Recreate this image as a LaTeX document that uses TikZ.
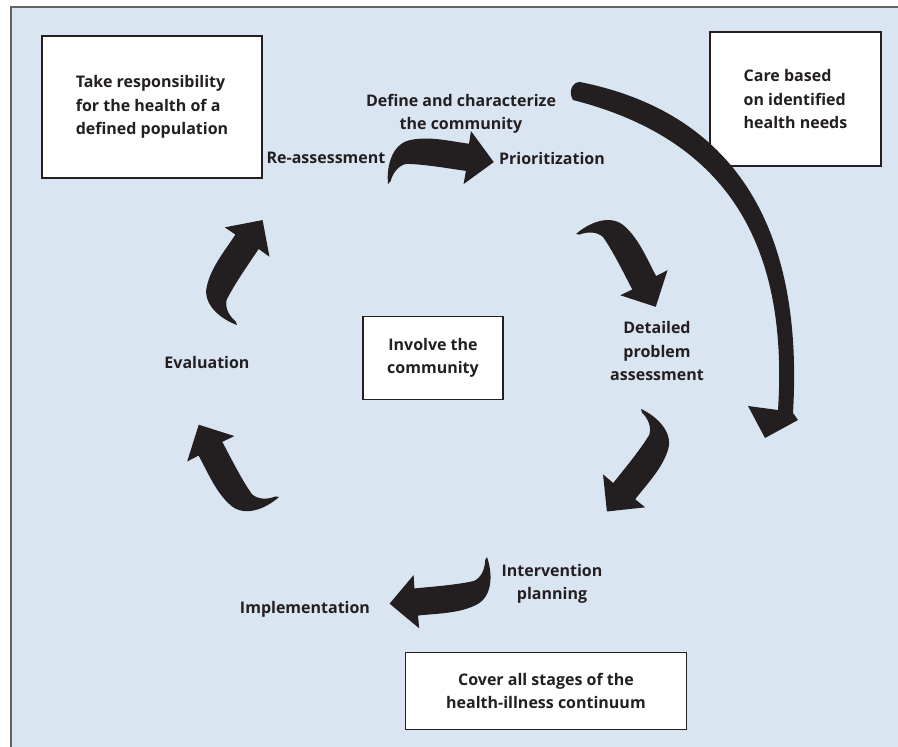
\documentclass[tikz,border=0pt]{standalone}
\usepackage{fontspec}
\setmainfont{Open Sans}
\usepackage{xcolor}

\definecolor{bgblue}{RGB}{218,229,242}
\definecolor{framegray}{RGB}{98,98,104}
\definecolor{inkblack}{RGB}{35,31,32}

\tikzset{
  labelfont/.style={font=\bfseries\fontsize{16}{23.5}\selectfont, text=inkblack},
  boxnode/.style={labelfont, draw=inkblack, line width=1.1pt, fill=white, inner sep=0pt},
  stagenode/.style={labelfont, align=center, inner sep=0pt},
  bentarrow/.pic={
    \fill[inkblack] (0,0) .. controls (2,-18) and (12,-38) .. (30,-38.5)
      .. controls (50,-39) and (70,-29) .. (87.5,-23)
      -- (92,-35) -- (108,0) -- (74,15.4) -- (79,3)
      .. controls (65,-2) and (40,-12) .. (22,-16)
      .. controls (14,-16) and (7,-10) .. (3,-2) -- cycle;
  }
}

\begin{document}
\begin{tikzpicture}[x=1pt, y=-1pt]
\useasboundingbox (0,0) rectangle (898,747);
% panel
\fill[bgblue] (11,7) rectangle (898,747);
\draw[framegray, line width=2.2pt] (11,747) -- (11,7) -- (898,7);

% boxes
\node[boxnode, minimum width=220, minimum height=142, align=left] (resp) at (152,107)
  {Take responsibility\\for the health of a\\defined population};
\node[boxnode, minimum width=171, minimum height=134, align=left] (needs) at (795.5,99)
  {Care based\\on identified\\health needs};
\node[boxnode, minimum width=140, minimum height=83, align=center] (involve) at (433,358)
  {Involve the\\community};
\node[boxnode, minimum width=281, minimum height=77, align=center] (cover) at (546,691)
  {Cover all stages of the\\health-illness continuum};

% stages
\node[stagenode] (define) at (461,114) {Define and characterize\\the community};
\node[stagenode] (prior) at (552,158) {Prioritization};
\node[stagenode] (reass) at (326,158) {Re-assessment};
\node[stagenode] (detail) at (657,351) {Detailed\\problem\\assessment};
\node[stagenode] (interv) at (552,584) {Intervention\\planning};
\node[stagenode] (impl) at (305,609) {Implementation};
\node[stagenode] (eval) at (207,362) {Evaluation};

% cycle arrows
\pic[rotate=11.7] at (388,184) {bentarrow};
\pic[rotate=-42.4] at (576,234) {bentarrow};
\pic[rotate=-108.4] at (641,409) {bentarrow};
\pic[rotate=-154.4] at (487,557) {bentarrow};
\pic[rotate=138] at (279,497) {bentarrow};
\pic[rotate=76.3] at (237,325) {bentarrow};

% big arrow
\fill[inkblack] (580,82) .. controls (720,110) and (805,210) .. (793,413)
  -- (798,420) -- (765,438) -- (748,406) -- (778,410)
  .. controls (790,225) and (710,135) .. (573,100)
  .. controls (568,92) and (572,82) .. (580,82) -- cycle;
\end{tikzpicture}
\end{document}
